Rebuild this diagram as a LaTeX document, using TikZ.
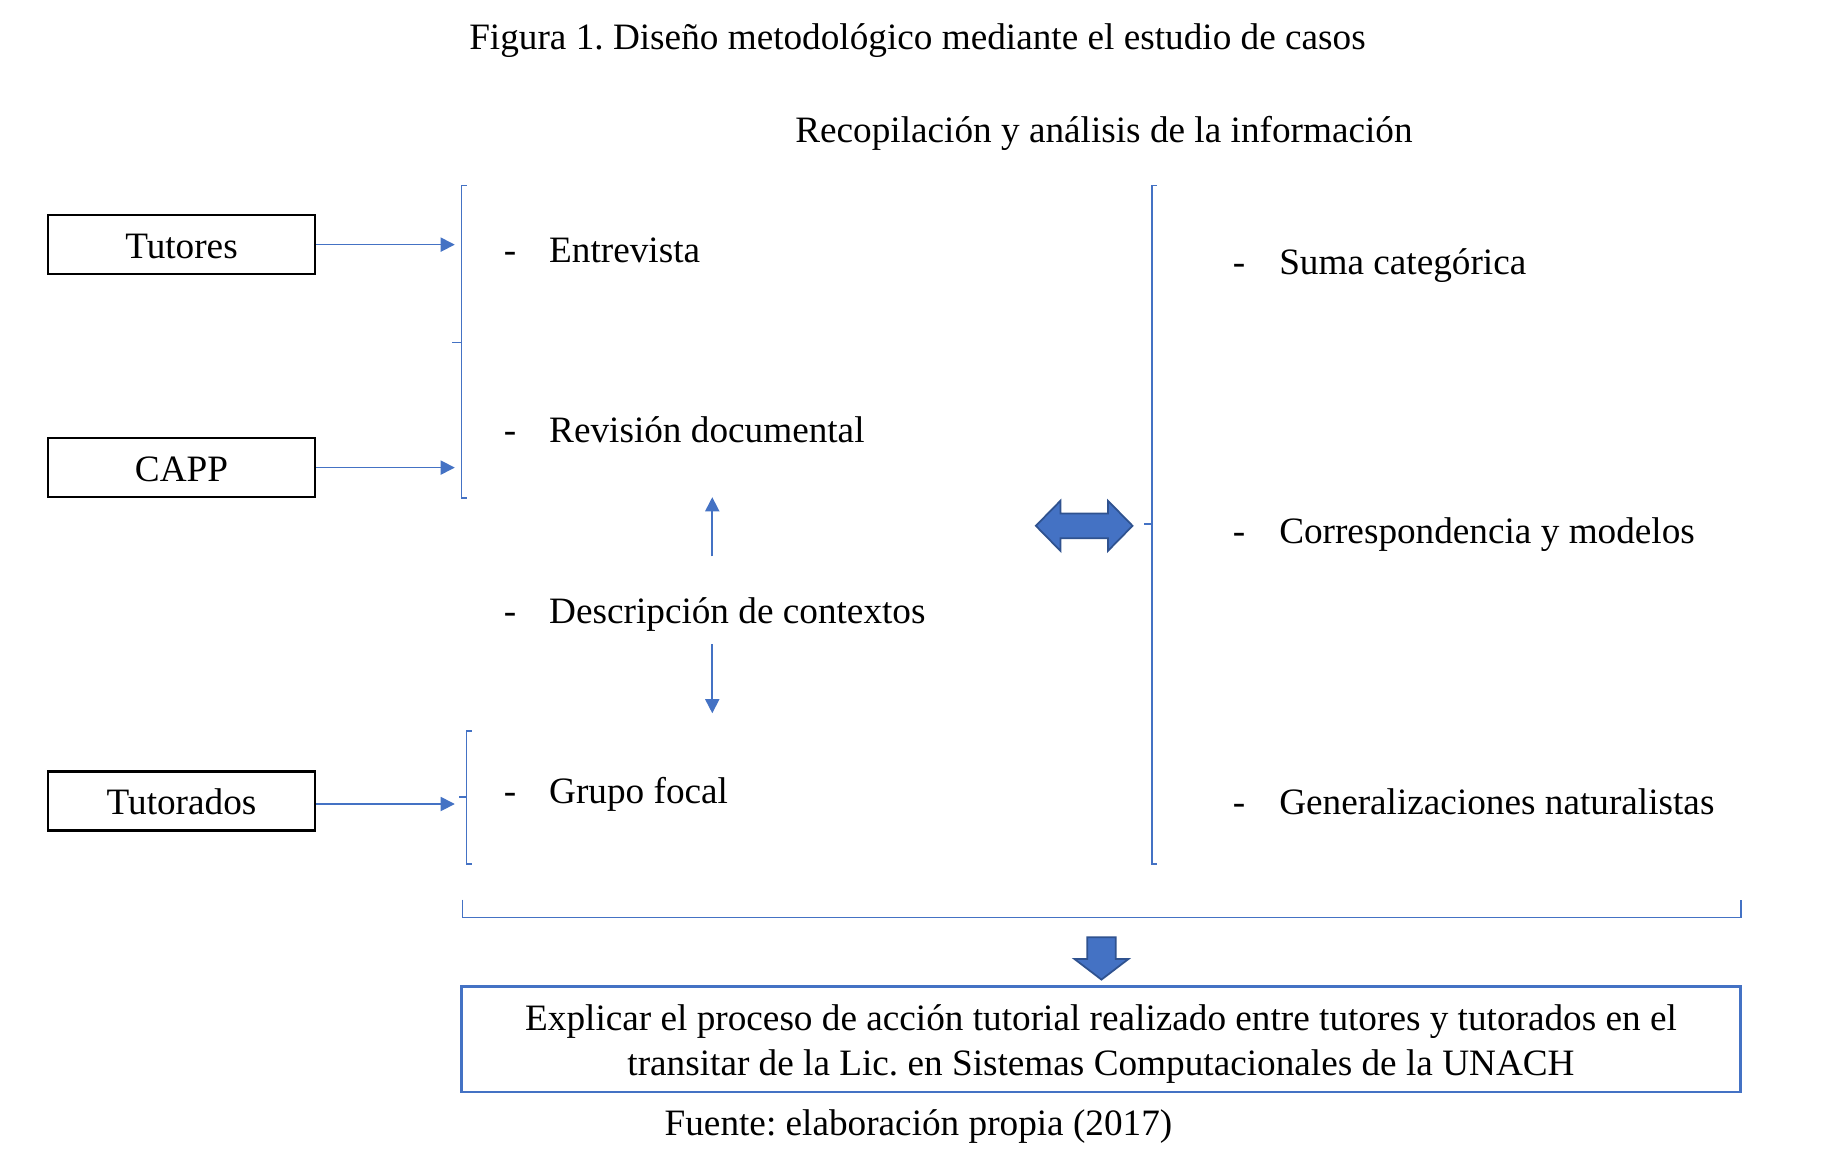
\documentclass[tikz,border=0pt]{standalone}
\usepackage{fontspec}
\setmainfont{Liberation Serif}
\usetikzlibrary{positioning,arrows.meta,calc}
\definecolor{lineblue}{HTML}{4472C4}
\definecolor{edgeblue}{HTML}{2F528F}
\frenchspacing

\begin{document}
\begin{tikzpicture}[x=0.009865cm,y=-0.009865cm,
	font=\fontsize{10.6}{12.8}\selectfont,
	src/.style={draw,line width=0.7pt,minimum width=2.67cm,minimum height=0.59cm,inner sep=0pt,text height=0.78em,text depth=0pt},
	item/.style={anchor=west,inner sep=0pt,text height=0.7em,text depth=0.25em},
	link/.style={draw=lineblue,line width=0.45pt,-{Triangle[length=4pt,width=4pt]}},
	brace/.style={draw=lineblue,line width=0.45pt},
	block/.style={fill=lineblue,draw=edgeblue,line width=0.5pt}]
\useasboundingbox (0,0) rectangle (1863.1,1183);

\node (fig) at (930,41) {Figura 1. Diseño metodológico mediante el estudio de casos};
\node (rec) at (1119,135) {Recopilación y análisis de la información};

\node[src] (tut) at (184,248) {Tutores};
\node[src] (capp) at (184,474) {CAPP};
\node[src] (tdo) at (184,812) {Tutorados};

\coordinate (a1) at (461,248);
\coordinate (a2) at (461,474);
\coordinate (a3) at (461,815);

\node[item] (d1) at (510,258) {-};
\node[item] (e1) at (556,258) {Entrevista};
\node[item] (d2) at (510,441) {-};
\node[item] (e2) at (556,441) {Revisión documental};
\node[item] (d3) at (510,624) {-};
\node[item] (e3) at (556,624) {Descripción de contextos};
\node[item] (d4) at (510,806) {-};
\node[item] (e4) at (556,806) {Grupo focal};

\node[item] (r1) at (1249,270) {-};
\node[item] (s1) at (1296,270) {Suma categórica};
\node[item] (r2) at (1249,543) {-};
\node[item] (s2) at (1296,543) {Correspondencia y modelos};
\node[item] (r3) at (1249,818) {-};
\node[item] (s3) at (1296,818) {Generalizaciones naturalistas};

\coordinate (u0) at (722,564);
\coordinate (u1) at (722,504);
\coordinate (w0) at (722,653);
\coordinate (w1) at (722,723);

\draw[link] (tut.east) -- (a1);
\draw[link] (capp.east) -- (a2);
\draw[link] (tdo.east |- a3) -- (a3);
\draw[link] (u0) -- (u1);
\draw[link] (w0) -- (w1);

\draw[brace] (473,188) -- (468,188) -- (468,505) -- (473,505)
	  (468,347) -- (458,347);
\draw[brace] (478,741) -- (473,741) -- (473,876) -- (478,876)
	  (473,808) -- (465,808);
\draw[brace] (1173,188) -- (1168,188) -- (1168,876) -- (1173,876)
	  (1168,531) -- (1160,531);
\draw[brace] (469,912) -- (469,930) -- (1765,930) -- (1765,912);

\draw[block] (1050,533) -- (1075,507.5) -- (1075,520.5) -- (1123,520.5) -- (1123,507.5)
	  -- (1148,533) -- (1123,558.5) -- (1123,545.5) -- (1075,545.5) -- (1075,558.5) -- cycle;
\draw[block] (1102,950) -- (1131,950) -- (1131,972) -- (1144,972) -- (1116.5,993)
	  -- (1089,972) -- (1102,972) -- cycle;

\node[draw=lineblue,line width=0.8pt,minimum width=12.8cm,minimum height=1.056cm] (goal) at (1116,1053.5) {};
\node[align=center] (goaltext) at ($(goal.center)+(0,5)$)
	{Explicar el proceso de acción tutorial realizado entre tutores y tutorados en el\\
	transitar de la Lic. en Sistemas Computacionales de la UNACH};
\node (cite) at (931,1142) {Fuente: elaboración propia (2017)};

\end{tikzpicture}
\end{document}
